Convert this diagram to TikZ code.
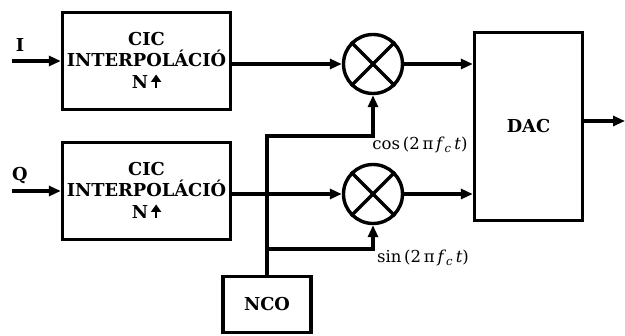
\documentclass[tikz,border=0pt]{standalone}
\usepackage{fontspec}
\setmainfont{DejaVu Serif}
\usetikzlibrary{arrows.meta,calc}
\newcommand{\uparr}{\tikz[x=1pt,y=1pt,baseline=0pt]\draw[line width=2.6pt,-{Triangle[length=7.5pt,width=10pt]}] (0,0)--(0,14);}
\begin{document}
\begin{tikzpicture}[x=1pt,y=-1pt,
  blk/.style={draw, line width=3.4pt, fill=white, align=center, inner sep=0pt,
     font=\fontsize{17.8}{21.5}\selectfont\bfseries},
  mix/.style={draw, circle, line width=3.4pt, minimum size=59pt, inner sep=0pt},
  conn/.style={line width=3.2pt, -{Triangle[length=12pt,width=10pt]}},
  wire/.style={line width=3.2pt},
  lbl/.style={font=\fontsize{17.8}{20}\selectfont\bfseries, inner sep=0pt},
  mlbl/.style={font=\fontsize{16.5}{19}\selectfont, inner sep=0pt}]
\useasboundingbox (0,0) rectangle (625,336);

\node[blk, minimum width=168pt, minimum height=97pt] (cic1) at (146.5,61)
  {CIC\\INTERPOLÁCIÓ\\N\,\uparr};
\node[blk, minimum width=168pt, minimum height=97pt] (cic2) at (146.5,191)
  {CIC\\INTERPOLÁCIÓ\\N\,\uparr};
\node[blk, minimum width=108pt, minimum height=188pt] (dac) at (528.5,126.5) {DAC};
\node[blk, minimum width=88pt, minimum height=56pt] (nco) at (267,304.5) {NCO};

\node[mix] (m1) at (373,64) {};
\node[mix] (m2) at (373,194) {};
\foreach \m in {m1,m2}{
  \draw[wire] (\m.north west) -- (\m.south east);
  \draw[wire] (\m.north east) -- (\m.south west);
}

\node[lbl] (lI) at (20,45) {I};
\node[lbl] (lQ) at (20,176) {Q};
\coordinate (inI) at (12,61);
\coordinate (inQ) at (12,191);
\draw[conn] (inI) -- (cic1.west);
\draw[conn] (inQ) -- (cic2.west);

\draw[conn] (cic1.east |- m1.west) -- (m1.west);
\draw[conn] (cic2.east |- m2.west) -- (m2.west);
\draw[conn] (m1.east) -- (dac.west |- m1.east);
\draw[conn] (m2.east) -- (dac.west |- m2.east);

\coordinate (j1) at (267,136);
\coordinate (j2) at (267,249);
\draw[conn] (nco.north) -- (j1) -| (m1.south);
\draw[conn] (j2) -| (m2.south);

\coordinate (out) at (625,121);
\draw[conn] (dac.east |- out) -- (out);

\node[mlbl] (cosl) at (420,145) {cos\,(2\,π\,\textit{f}\textsubscript{\textit{c}}\,\textit{t})};
\node[mlbl] (sinl) at (423,258) {sin\,(2\,π\,\textit{f}\textsubscript{\textit{c}}\,\textit{t})};
\end{tikzpicture}
\end{document}
